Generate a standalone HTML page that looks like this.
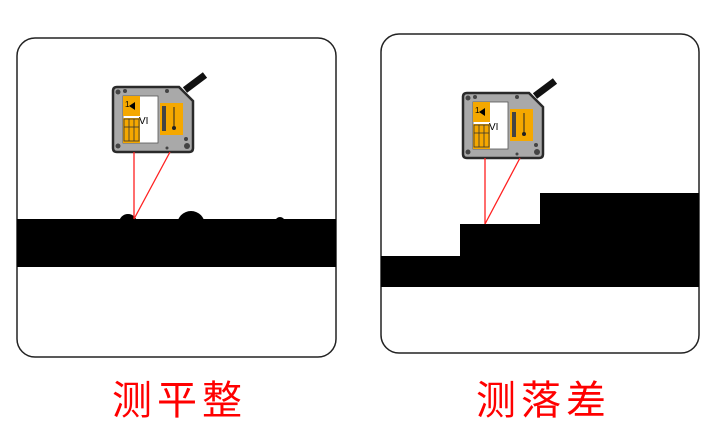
<!DOCTYPE html>
<html><head><meta charset="utf-8"><style>
html,body{margin:0;padding:0;background:#fff;width:720px;height:444px;overflow:hidden}
.t{position:absolute;top:376px;font-family:"Liberation Sans","Noto Sans CJK SC",sans-serif;font-size:40px;color:#ff0000;letter-spacing:5px;line-height:50px}
</style></head><body>
<svg width="720" height="444" style="position:absolute;left:0;top:0">
<defs>
<g id="s">
<line x1="72" y1="3" x2="92" y2="-12" stroke="#111" stroke-width="7"/>
<path d="M4,0 H66 L80,14 V61 Q80,65 76,65 H4 Q0,65 0,61 V4 Q0,0 4,0 Z" fill="#a9a9a9" stroke="#2a2a2a" stroke-width="2.5"/>
<rect x="10" y="9" width="35" height="47" fill="#fff" stroke="#555" stroke-width="0.8"/>
<rect x="10" y="9" width="17" height="20" fill="#f5a800"/>
<rect x="10" y="31" width="17" height="25" fill="#f5a800"/>
<g stroke="#333" stroke-width="0.8" fill="none"><rect x="11" y="32" width="15" height="22"/><line x1="16" y1="32" x2="16" y2="54"/><line x1="21" y1="32" x2="21" y2="54"/><line x1="11" y1="40" x2="26" y2="40"/></g>
<text x="12" y="20" font-size="8" font-family="Liberation Sans" fill="#000">1</text>
<path d="M16,19 L22,15 L22,23 Z" fill="#000"/>
<text x="26" y="37" font-size="10" font-family="Liberation Sans" fill="#000">VI</text>
<rect x="47" y="16" width="23" height="32" fill="#f5a800"/>
<rect x="49" y="19" width="4" height="25" fill="#444"/>
<line x1="61" y1="20" x2="61" y2="40" stroke="#222" stroke-width="1"/>
<circle cx="61" cy="41" r="2" fill="#222"/>
<g fill="#444"><circle cx="5" cy="5" r="2.5"/><circle cx="12" cy="4" r="2"/><circle cx="54" cy="4" r="2"/><circle cx="5" cy="59" r="2.5"/><circle cx="73" cy="52" r="2"/><circle cx="74" cy="59" r="3"/><circle cx="54" cy="61" r="1.5"/></g>
</g>
</defs>
<!-- left panel -->
<rect x="17" y="38" width="319" height="319" rx="18" fill="#fff" stroke="#222" stroke-width="1.5"/>
<rect x="17" y="219" width="319" height="48" fill="#000"/>
<circle cx="128" cy="223" r="9" fill="#000"/>
<circle cx="191" cy="225" r="14" fill="#000"/>
<circle cx="280" cy="222" r="5" fill="#000"/>
<use href="#s" x="113" y="87"/>
<g stroke="#ff2020" stroke-width="1.3"><line x1="134" y1="152" x2="134" y2="219"/><line x1="170" y1="152" x2="134" y2="219"/></g>
<!-- right panel -->
<rect x="381" y="34" width="318" height="319" rx="18" fill="#fff" stroke="#222" stroke-width="1.5"/>
<path d="M381,256 H460 V224 H540 V193 H699 V287 H381 Z" fill="#000"/>
<use href="#s" x="463" y="93"/>
<g stroke="#ff2020" stroke-width="1.3"><line x1="485" y1="158" x2="485" y2="224"/><line x1="520" y1="158" x2="485" y2="224"/></g>
</svg>
<div class="t" style="left:112px">测平整</div>
<div class="t" style="left:476px">测落差</div>
</body></html>
